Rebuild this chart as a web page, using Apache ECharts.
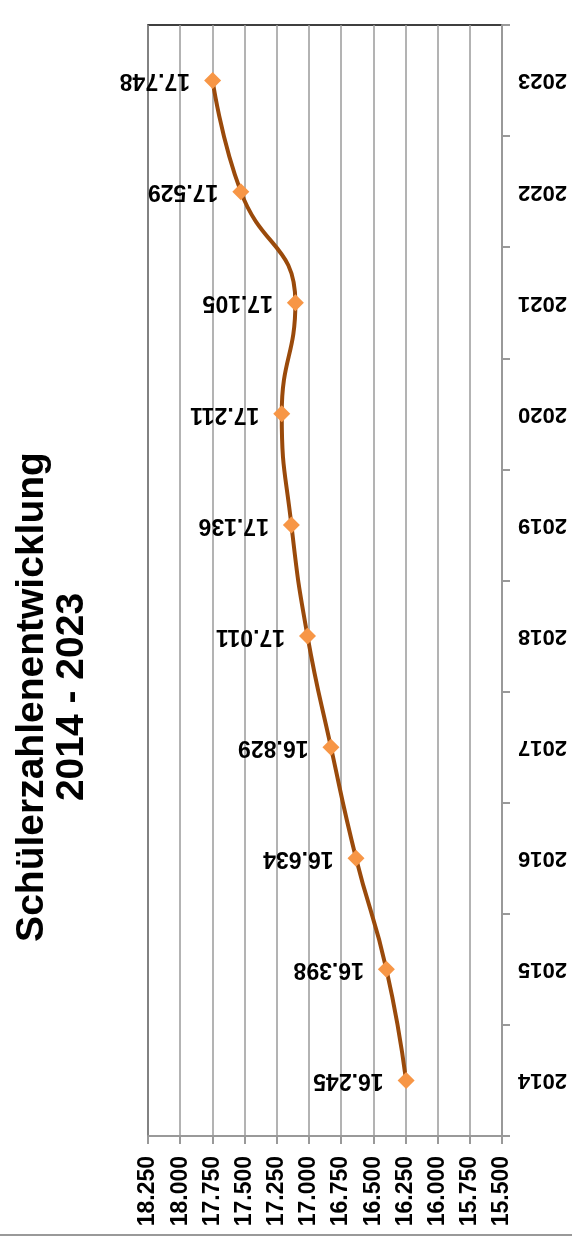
<!DOCTYPE html>
<html>
<head>
<meta charset="utf-8">
<script src="https://cdn.jsdelivr.net/npm/echarts@6/dist/echarts.min.js"></script>
<style>
html,body{margin:0;padding:0;background:#fff;}
#chart{width:574px;height:1240px;}
</style>
</head>
<body>
<div id="chart"></div>
<script>
const titleLines = ['Schülerzahlenentwicklung', '2014 - 2023'];
const years = ['2014','2015','2016','2017','2018','2019','2020','2021','2022','2023'];
const pupils = [16245, 16398, 16634, 16829, 17011, 17136, 17211, 17105, 17529, 17748];
const axisMin = 15500;
const axisMax = 18250;
const axisStep = 250;

const FONT = '"Liberation Sans", Arial, sans-serif';
const fmt = v => (v / 1000).toFixed(3);

const chart = echarts.init(document.getElementById('chart'), null, {renderer: 'canvas'});
chart.setOption({
  animation: false,
  backgroundColor: '#fff',
  grid: {left: 148, right: 72, top: 25, bottom: 104, show: true, borderColor: '#000', borderWidth: 1.5, backgroundColor: 'transparent'},
  graphic: [
    {
      type: 'text', x: 52, y: 697, rotation: Math.PI / 2,
      style: {
        text: titleLines.join('\n'), fill: '#000',
        font: 'bold 39px ' + FONT, lineHeight: 40,
        textAlign: 'center', textVerticalAlign: 'middle', align: 'center', verticalAlign: 'middle'
      }
    },
    {
      type: 'line', shape: {x1: 0, y1: 1235, x2: 572, y2: 1235},
      style: {stroke: '#999', lineWidth: 2}
    }
  ],
  xAxis: {
    type: 'value', position: 'bottom', inverse: true,
    min: axisMin, max: axisMax, interval: axisStep,
    axisLine: {show: true, lineStyle: {color: '#999', width: 2}},
    axisTick: {show: true, length: 8, lineStyle: {color: '#999', width: 2}},
    splitLine: {show: true, lineStyle: {color: '#9a9a9a', width: 1.5}},
    axisLabel: {rotate: 90, margin: 20, color: '#000', fontWeight: 'bold', fontSize: 23, fontFamily: FONT, formatter: fmt}
  },
  yAxis: {
    type: 'category', position: 'right', data: years, boundaryGap: true,
    axisLine: {show: true, lineStyle: {color: '#999', width: 2}},
    axisTick: {show: true, length: 8, alignWithLabel: false, lineStyle: {color: '#999', width: 2}},
    splitLine: {show: false},
    axisLabel: {rotate: 180, margin: 16, color: '#000', fontWeight: 'bold', fontSize: 22, fontFamily: FONT}
  },
  series: [{
    type: 'line', data: pupils, smooth: 0.5,
    lineStyle: {color: '#9a4a0b', width: 4},
    symbol: 'diamond', symbolSize: 17,
    itemStyle: {color: '#f79646'},
    label: {
      show: true, position: 'left', distance: 14, rotate: 180,
      align: 'left', verticalAlign: 'middle',
      color: '#000', fontWeight: 'bold', fontSize: 23, fontFamily: FONT,
      formatter: p => fmt(p.value)
    },
    z: 5
  }]
});
</script>
</body>
</html>
